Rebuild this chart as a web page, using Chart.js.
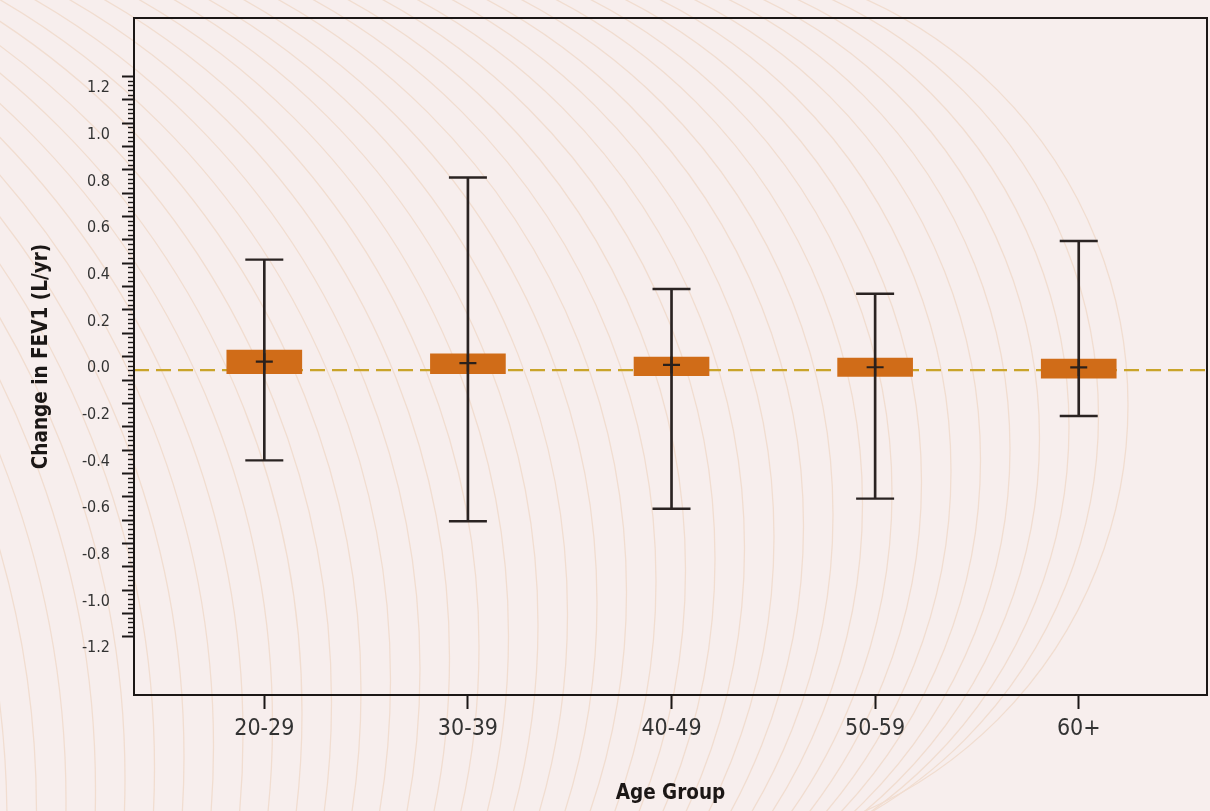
<!DOCTYPE html>
<html>
<head>
<meta charset="utf-8">
<script src="https://cdn.jsdelivr.net/npm/chart.js"></script>
<style>
  html,body{margin:0;padding:0;background:#f7eeed}
  #wrap{width:1210px;height:811px}
</style>
</head>
<body>
<div id="wrap"><canvas id="grafik" width="1210" height="811"></canvas></div>
<script>
// ================= DATA =================
const kategori = ["20-29", "30-39", "40-49", "50-59", "60+"];
const posisiX = [1, 2, 3, 4, 5];
const whiskerAtas = [0.465, 0.817, 0.339, 0.319, 0.545];
const whiskerBawah = [-0.395, -0.656, -0.602, -0.559, -0.205];
const kotakAtas = [0.078, 0.061, 0.048, 0.043, 0.039];
const kotakBawah = [-0.024, -0.024, -0.032, -0.035, -0.043];
const rataRata = [0.028, 0.022, 0.014, 0.004, 0.003];
const garisRef = -0.008;
const labelY = [1.2, 1.0, 0.8, 0.6, 0.4, 0.2, 0.0, -0.2, -0.4, -0.6, -0.8, -1.0, -1.2];
const rentangX = [0.36, 5.63];
const rentangY = [-1.4, 1.5];

const FONT = "'DejaVu Sans Condensed', 'Liberation Sans Narrow', sans-serif";
const HITAM = "#1b1716";

// ================= BACKGROUND ARCS =================
const bgPlugin = {
  id: "bgArcs",
  beforeDraw(chart) {
    const ctx = chart.ctx;
    ctx.save();
    ctx.fillStyle = "#f7eeed";
    ctx.fillRect(0, 0, chart.width, chart.height);
    ctx.strokeStyle = "#f1ddd0";
    ctx.lineWidth = 1.3;
    for (let i = 0; i < 70; i++) {
      const r = 445 + 13.7 * i;
      const ax = 1128 - 29.5 * i;
      const ay = 405 + 11 * i;
      ctx.beginPath();
      ctx.arc(ax - r, ay, r, -Math.PI / 2, Math.PI / 2);
      ctx.stroke();
    }
    ctx.restore();
  }
};

// ================= FRAME + Y TICK MARKS =================
const framePlugin = {
  id: "frame",
  afterDraw(chart) {
    const ctx = chart.ctx;
    const a = chart.chartArea;
    const y = chart.scales.y;
    ctx.save();
    ctx.strokeStyle = HITAM;
    ctx.lineWidth = 2;
    ctx.strokeRect(a.left, a.top, a.right - a.left, a.bottom - a.top);

    // tick marks sit a bit above their labels in the original
    const geser = -12;
    for (let k = -60; k <= 60; k++) {
      const v = k / 50;
      const py = Math.round(y.getPixelForValue(v) + geser) + 0.5;
      const mayor = k % 5 === 0;
      ctx.lineWidth = mayor ? 2 : 1.4;
      ctx.beginPath();
      ctx.moveTo(a.left, py);
      ctx.lineTo(a.left - (mayor ? 12 : 6), py);
      ctx.stroke();
    }
    ctx.restore();
  }
};

// ================= CHART =================
new Chart(document.getElementById("grafik"), {
  type: "bar",
  data: {
    datasets: [
      {
        type: "line",
        data: [{x: rentangX[0], y: garisRef}, {x: rentangX[1], y: garisRef}],
        borderColor: "#c9a42a",
        borderWidth: 2.2,
        borderDash: [15, 7],
        pointRadius: 0,
        order: 5
      },
      {
        data: posisiX.map((x, i) => ({x: x, y: [kotakBawah[i], kotakAtas[i]]})),
        backgroundColor: "#d06c18",
        borderWidth: 0,
        barThickness: 75,
        grouped: false,
        order: 4
      },
      {
        data: posisiX.map((x, i) => ({x: x, y: [whiskerBawah[i], whiskerAtas[i]]})),
        backgroundColor: "#2a2322",
        borderWidth: 0,
        barThickness: 2,
        grouped: false,
        order: 3
      },
      {
        type: "scatter",
        data: posisiX.flatMap((x, i) => [{x: x, y: whiskerAtas[i]}, {x: x, y: whiskerBawah[i]}]),
        pointStyle: "line",
        pointRadius: 19,
        borderColor: "#2a2322",
        borderWidth: 2.4,
        order: 2
      },
      {
        type: "scatter",
        data: posisiX.map((x, i) => ({x: x, y: rataRata[i]})),
        pointStyle: "cross",
        pointRadius: 8.5,
        borderColor: "#2b201b",
        borderWidth: 2.2,
        order: 1
      }
    ]
  },
  options: {
    responsive: false,
    animation: false,
    layout: {autoPadding: false, padding: {top: 18, right: 3, left: 0, bottom: 0}},
    plugins: {legend: {display: false}, tooltip: {enabled: false}},
    scales: {
      x: {
        type: "linear",
        offset: false,
        min: rentangX[0],
        max: rentangX[1],
        afterBuildTicks: s => { s.ticks = posisiX.map(v => ({value: v})); },
        afterFit: s => { s.height = 116; s.paddingLeft = 0; s.paddingRight = 0; },
        border: {display: false},
        grid: {offset: false, drawOnChartArea: false, drawTicks: true, tickLength: 14, tickColor: HITAM, tickWidth: 2},
        ticks: {
          padding: 6,
          color: "#333",
          font: {family: FONT, size: 23},
          maxRotation: 0,
          callback: v => kategori[v - 1]
        },
        title: {
          display: true,
          text: "Age Group",
          color: HITAM,
          font: {family: FONT, size: 20.5, weight: "bold"},
          padding: {bottom: 5, top: 0}
        }
      },
      y: {
        type: "linear",
        min: rentangY[0],
        max: rentangY[1],
        afterBuildTicks: s => { s.ticks = labelY.map(v => ({value: v})); },
        afterFit: s => { s.width = 134; s.paddingTop = 0; s.paddingBottom = 0; },
        border: {display: false},
        grid: {drawOnChartArea: false, drawTicks: true, tickLength: 12, tickColor: "rgba(0,0,0,0)"},
        ticks: {
          padding: 12,
          color: "#333",
          font: {family: FONT, size: 16},
          callback: v => v.toFixed(1)
        },
        title: {
          display: true,
          text: "Change in FEV1 (L/yr)",
          color: HITAM,
          font: {family: FONT, size: 20.5, weight: "bold"},
          padding: {top: 29, bottom: 0}
        }
      }
    }
  },
  plugins: [bgPlugin, framePlugin]
});
</script>
</body>
</html>
